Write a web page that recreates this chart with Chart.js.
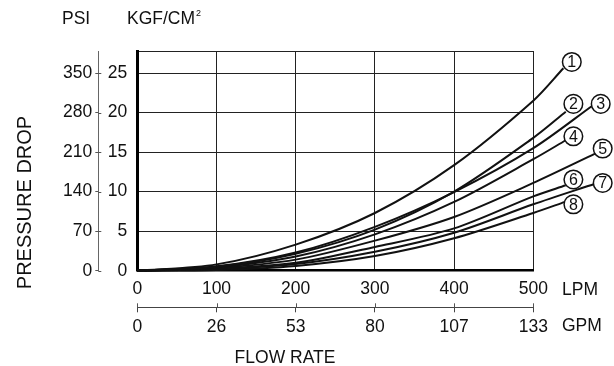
<!DOCTYPE html>
<html><head><meta charset="utf-8">
<script src="https://cdn.jsdelivr.net/npm/chart.js@4/dist/chart.umd.min.js"></script>
<style>html,body{margin:0;padding:0;background:#fff;} #wrap{width:614px;height:366px;position:relative;}</style>
</head><body><div id="wrap"><canvas id="c" width="614" height="366"></canvas></div>
<script>
// ---- data ----
const flowLPM = [0, 100, 200, 300, 400, 500];
const curve1 = [0, 0.8, 3.3, 7.3, 13.35, 21.5];
const curve2 = [0, 0.5, 2.15, 5.2, 10.0, 16.8];
const curve3 = [0, 0.55, 2.3, 5.55, 9.95, 15.5];
const curve4 = [0, 0.45, 1.8, 4.6, 8.7, 14.1];
const curve5 = [0, 0.35, 1.4, 3.8, 6.8, 11.1];
const curve6 = [0, 0.25, 1.0, 3.0, 5.35, 9.4];
const curve7 = [0, 0.2, 0.85, 2.4, 4.8, 8.4];
const curve8 = [0, 0.1, 0.6, 1.85, 4.1, 7.3];
const leaderEndLPM = [538, 541, 575, 541, 578, 541, 578, 540];
const leaderEndKgf = [25.6, 20.1, 20.9, 16.5, 14.8, 10.8, 11.0, 8.7];
const labelNames = ['1', '2', '3', '4', '5', '6', '7', '8'];
const labelLPM = [548.6, 550.6, 585.1, 550.6, 587.6, 550.6, 587.6, 550.6];
const labelKgf = [26.4, 21.1, 21.1, 17.0, 15.45, 11.54, 11.1, 8.4];
const kgfTicks = [0, 5, 10, 15, 20, 25];
const psiTicks = [0, 70, 140, 210, 280, 350];
const lpmTicks = [0, 100, 200, 300, 400, 500];
const gpmTicks = ['0', '26', '53', '80', '107', '133'];
const kgfMax = 27.7;
const psiPerKgf = 14;

const FONT = "'Liberation Sans', Arial, sans-serif";
const INK = '#111';
const curves = [curve1, curve2, curve3, curve4, curve5, curve6, curve7, curve8];

const datasets = curves.map((c, i) => ({
  label: labelNames[i],
  data: flowLPM.map((x, j) => ({x: x, y: c[j]})).concat([{x: leaderEndLPM[i], y: leaderEndKgf[i]}]),
  borderColor: INK, borderWidth: 2, pointRadius: 0, fill: false,
  tension: 0.3, clip: false
}));

const lpmLimits = s => { s.min = 0; s.max = 500; };
const lpmTickBuild = s => { s.ticks = lpmTicks.map(v => ({value: v})); };

const decor = {
  id: 'decor',
  afterDatasetsDraw(chart) {
    const ctx = chart.ctx, sx = chart.scales.x, sy = chart.scales.y;
    ctx.save();
    labelNames.forEach((n, i) => {
      const px = sx.getPixelForValue(labelLPM[i]);
      const py = sy.getPixelForValue(labelKgf[i]);
      ctx.beginPath();
      ctx.arc(px, py, 9.3, 0, Math.PI * 2);
      ctx.fillStyle = '#fff'; ctx.fill();
      ctx.lineWidth = 1.5; ctx.strokeStyle = INK; ctx.stroke();
      ctx.fillStyle = INK;
      ctx.font = '16px ' + FONT;
      ctx.textAlign = 'center'; ctx.textBaseline = 'middle';
      ctx.fillText(n, px, py + 1);
    });
    ctx.restore();
  },
  afterDraw(chart) {
    const ctx = chart.ctx, s2 = chart.scales.y2, sg = chart.scales.x2;
    ctx.save();
    ctx.strokeStyle = '#555'; ctx.lineWidth = 1;
    psiTicks.forEach(v => {
      const y = Math.round(s2.getPixelForValue(v)) + 0.5;
      ctx.beginPath(); ctx.moveTo(s2.right, y); ctx.lineTo(s2.right + 3, y); ctx.stroke();
    });
    lpmTicks.forEach(v => {
      const x = Math.round(sg.getPixelForValue(v)) + 0.5;
      ctx.beginPath(); ctx.moveTo(x, sg.top - 4); ctx.lineTo(x, sg.top); ctx.stroke();
    });
    ctx.fillStyle = INK;
    ctx.textBaseline = 'middle';
    ctx.font = '17.5px ' + FONT;
    ctx.textAlign = 'left';
    ctx.fillText('PSI', 62, 19);
    ctx.fillText('KGF/CM', 127, 19);
    const w = ctx.measureText('KGF/CM').width;
    ctx.font = '9px ' + FONT;
    ctx.fillText('2', 127 + w + 1, 14);
    ctx.font = '17.5px ' + FONT;
    ctx.fillText('LPM', 562, 290);
    ctx.fillText('GPM', 562, 326.5);
    ctx.textAlign = 'center';
    ctx.fillText('FLOW RATE', 285, 358);
    ctx.save();
    ctx.translate(25, 202.5);
    ctx.rotate(-Math.PI / 2);
    ctx.font = '20px ' + FONT;
    ctx.fillText('PRESSURE DROP', 0, 0);
    ctx.restore();
    ctx.restore();
  }
};

const tickFont = {family: FONT, size: 17.5};

new Chart(document.getElementById('c'), {
  type: 'line',
  data: {datasets: datasets},
  plugins: [decor],
  options: {
    animation: false, responsive: false, devicePixelRatio: 1,
    layout: {padding: {left: 53.3, right: 80.7, top: 51.7, bottom: 18.7}},
    plugins: {legend: {display: false}, tooltip: {enabled: false}},
    scales: {
      x: {
        type: 'linear', position: 'bottom', weight: 0,
        afterDataLimits: lpmLimits, afterBuildTicks: lpmTickBuild,
        afterFit: s => { s.height = 36.6; },
        grid: {drawOnChartArea: true, drawTicks: false, color: '#222', lineWidth: 1},
        border: {display: true, color: '#000', width: 2.5},
        ticks: {padding: 8, color: INK, font: tickFont, maxRotation: 0, autoSkip: false}
      },
      x2: {
        type: 'linear', position: 'bottom', weight: 1,
        afterDataLimits: lpmLimits, afterBuildTicks: lpmTickBuild,
        afterFit: s => { s.height = 40; },
        grid: {drawOnChartArea: false, drawTicks: true, tickLength: 5, color: '#444', lineWidth: 1},
        border: {display: true, color: '#444', width: 1},
        ticks: {padding: 4, color: INK, font: tickFont, maxRotation: 0, autoSkip: false,
          callback: (v, i) => gpmTicks[i]}
      },
      xTop: {
        type: 'linear', position: 'top',
        afterDataLimits: lpmLimits, afterBuildTicks: lpmTickBuild,
        afterFit: s => { s.height = 0; },
        ticks: {display: false}, grid: {display: false, drawTicks: false},
        border: {display: true, color: '#222', width: 1}
      },
      y: {
        type: 'linear', position: 'left', weight: 0, min: 0, max: kgfMax,
        afterBuildTicks: s => { s.ticks = kgfTicks.map(v => ({value: v})); },
        afterFit: s => { s.width = 39; },
        grid: {drawOnChartArea: true, drawTicks: false, color: '#222', lineWidth: 1},
        border: {display: true, color: '#000', width: 3},
        ticks: {padding: 10, color: INK, font: tickFont}
      },
      y2: {
        type: 'linear', position: 'left', weight: 1, min: 0, max: kgfMax * psiPerKgf,
        afterBuildTicks: s => { s.ticks = psiTicks.map(v => ({value: v})); },
        afterFit: s => { s.width = 45; },
        grid: {drawOnChartArea: false, drawTicks: true, tickLength: 3, color: '#555', lineWidth: 1},
        border: {display: true, color: '#666', width: 1},
        ticks: {padding: 3, color: INK, font: tickFont}
      }
    }
  }
});
</script>
</body></html>
